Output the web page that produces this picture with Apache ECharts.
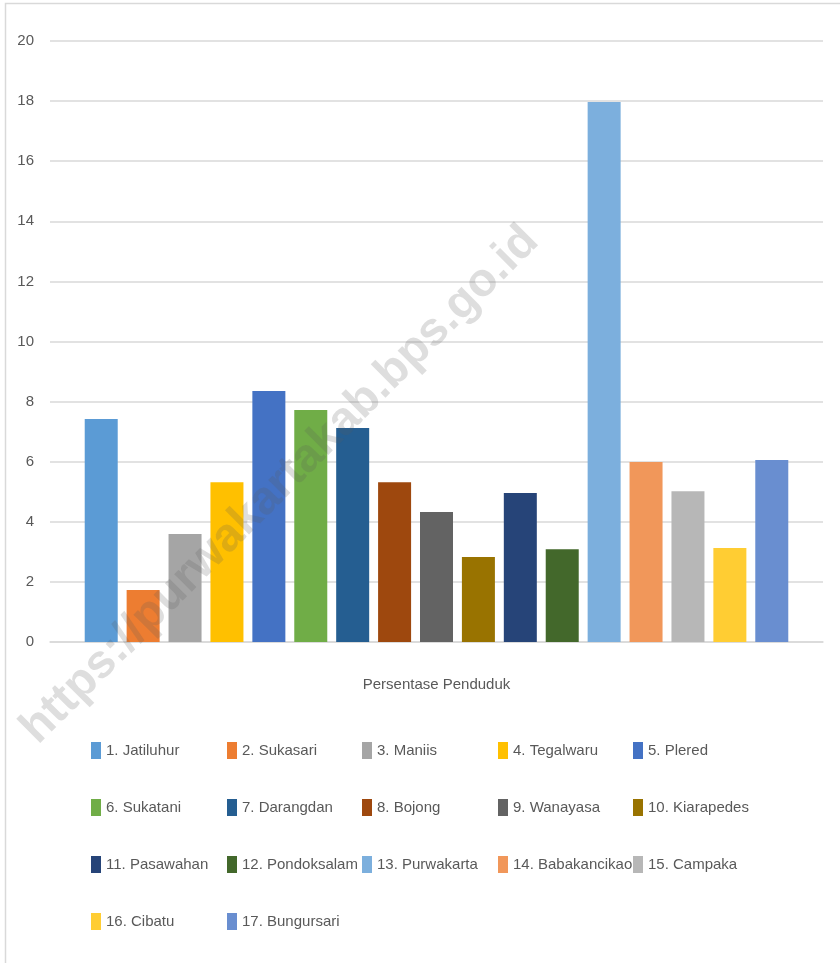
<!DOCTYPE html>
<html lang="id">
<head>
<meta charset="utf-8">
<title>Persentase Penduduk</title>
<style>
  html, body { margin: 0; padding: 0; background: #fff; }
  #chart { width: 840px; height: 963px; }
</style>
</head>
<body>
<div id="chart"></div>
<script src="https://cdn.jsdelivr.net/npm/echarts@6/dist/echarts.min.js"></script>
<script>
// data
var categories = ['Persentase Penduduk'];
var kecamatan = ['1. Jatiluhur', '2. Sukasari', '3. Maniis', '4. Tegalwaru', '5. Plered',
  '6. Sukatani', '7. Darangdan', '8. Bojong', '9. Wanayasa', '10. Kiarapedes',
  '11. Pasawahan', '12. Pondoksalam', '13. Purwakarta', '14. Babakancikao', '15. Campaka',
  '16. Cibatu', '17. Bungursari'];
var persen = [7.42, 1.73, 3.59, 5.32, 8.35, 7.72, 7.12, 5.32, 4.33, 2.83,
  4.96, 3.09, 17.97, 5.99, 5.02, 3.13, 6.06];
var colors = ['#5B9BD5', '#ED7D31', '#A5A5A5', '#FFC000', '#4472C4', '#70AD47', '#255E91',
  '#9E480E', '#636363', '#997300', '#264478', '#43682B', '#7CAFDD', '#F1975A', '#B7B7B7',
  '#FFCD33', '#698ED0'];
var yTicks = [0, 2, 4, 6, 8, 10, 12, 14, 16, 18, 20];

var font = '"Liberation Sans", Arial, sans-serif';
var textColor = '#595959';

var chart = echarts.init(document.getElementById('chart'));

var series = kecamatan.map(function (name, i) {
  return {
    name: name,
    type: 'bar',
    data: [persen[i]],
    barWidth: 33,
    barGap: '27%',
    itemStyle: { color: colors[i] }
  };
});

// legend: 5 columns, filled row by row
var colX = [91, 227, 362, 498, 633];
var legends = colX.map(function (x, c) {
  var items = kecamatan.filter(function (n, i) { return i % 5 === c; });
  return {
    orient: 'vertical',
    left: x,
    top: 742,
    padding: 0,
    itemWidth: 10,
    itemHeight: 17,
    itemGap: 40,
    icon: 'rect',
    selectedMode: false,
    data: items,
    textStyle: { fontFamily: font, fontSize: 15, color: textColor, lineHeight: 17 }
  };
});

var option = {
  backgroundColor: '#fff',
  animation: false,
  color: colors,
  grid: { left: 50, right: 17, top: 41, bottom: 321 },
  legend: legends,
  xAxis: {
    type: 'category',
    data: categories,
    axisLine: { lineStyle: { color: '#d9d9d9', width: 1.5 } },
    axisTick: { show: false },
    axisLabel: { margin: 35, fontFamily: font, fontSize: 15, color: textColor }
  },
  yAxis: {
    type: 'value',
    min: yTicks[0],
    max: yTicks[yTicks.length - 1],
    interval: 2,
    axisLine: { show: false },
    axisTick: { show: false },
    axisLabel: { margin: 16, fontFamily: font, fontSize: 15, color: textColor },
    splitLine: { lineStyle: { color: '#d9d9d9', width: 1.5 } }
  },
  series: series,
  graphic: [
    {
      type: 'rect',
      shape: { x: 5.5, y: 3.5, width: 850, height: 975 },
      style: { fill: null, stroke: '#d9d9d9', lineWidth: 1.5 },
      silent: true,
      z: 0
    },
    {
      type: 'text',
      x: 280,
      y: 485,
      rotation: Math.PI / 4,
      style: {
        text: 'https://purwakartakab.bps.go.id',
        fontFamily: '"Liberation Sans", Arial, sans-serif',
        fontWeight: 'bold',
        fontSize: 47,
        fill: 'rgba(90,90,90,0.2)',
        align: 'center',
        verticalAlign: 'middle'
      },
      silent: true,
      z: 100
    }
  ]
};

chart.setOption(option);
</script>
</body>
</html>
